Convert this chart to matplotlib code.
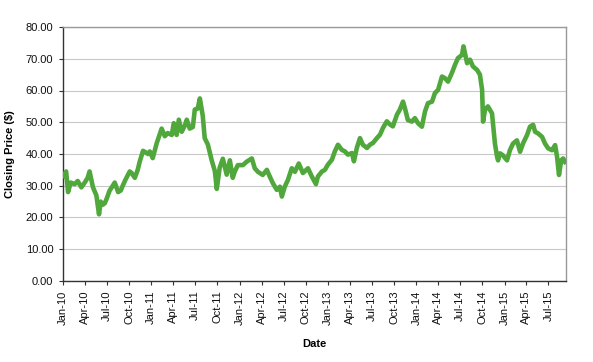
import matplotlib
matplotlib.use("Agg")
import matplotlib.pyplot as plt
import pandas as pd

dates = [
    "2010-01-04", "2010-01-08", "2010-01-14", "2010-01-22", "2010-02-02", "2010-02-18", "2010-03-03",
    "2010-03-18", "2010-04-01", "2010-04-13", "2010-04-21", "2010-05-05", "2010-05-19", "2010-05-30",
    "2010-06-06", "2010-06-14", "2010-06-23", "2010-07-01", "2010-07-13", "2010-07-26", "2010-08-03",
    "2010-08-17", "2010-08-28", "2010-09-05", "2010-09-17", "2010-10-04", "2010-10-12", "2010-10-25",
    "2010-11-06", "2010-11-14", "2010-11-28", "2010-12-09", "2010-12-19", "2010-12-26",
    "2011-01-07", "2011-01-24", "2011-02-13", "2011-02-26", "2011-03-10", "2011-03-27", "2011-04-04",
    "2011-04-16", "2011-04-25", "2011-05-07", "2011-05-20", "2011-05-28", "2011-06-09", "2011-06-22",
    "2011-06-30", "2011-07-12", "2011-07-21", "2011-08-02", "2011-08-10", "2011-08-23", "2011-09-08",
    "2011-09-21", "2011-09-29", "2011-10-11", "2011-10-24", "2011-11-09", "2011-11-22", "2011-12-04",
    "2011-12-12", "2011-12-25",
    "2012-01-15", "2012-01-31", "2012-02-21", "2012-03-04", "2012-03-17", "2012-04-06", "2012-04-23",
    "2012-05-05", "2012-05-18", "2012-06-03", "2012-06-16", "2012-06-24", "2012-07-06", "2012-07-19",
    "2012-08-04", "2012-08-17", "2012-09-02", "2012-09-19", "2012-10-10", "2012-10-26", "2012-11-12",
    "2012-11-20", "2012-12-07", "2012-12-19", "2012-12-31",
    "2013-01-17", "2013-01-29", "2013-02-11", "2013-02-27", "2013-03-12", "2013-03-24", "2013-04-10",
    "2013-04-18", "2013-04-30", "2013-05-13", "2013-05-25", "2013-06-11", "2013-06-23", "2013-07-06",
    "2013-07-22", "2013-08-04", "2013-08-16", "2013-09-01", "2013-09-14", "2013-09-26", "2013-10-13",
    "2013-10-25", "2013-11-07", "2013-11-15", "2013-11-27", "2013-12-14", "2013-12-26",
    "2014-01-08", "2014-01-24", "2014-02-06", "2014-02-18", "2014-03-07", "2014-03-19", "2014-04-01",
    "2014-04-17", "2014-04-29", "2014-05-12", "2014-05-28", "2014-06-10", "2014-06-22", "2014-07-09",
    "2014-07-15", "2014-07-30", "2014-08-11", "2014-08-23", "2014-09-09", "2014-09-21", "2014-09-30",
    "2014-10-04", "2014-10-12", "2014-10-24", "2014-11-10", "2014-11-14", "2014-11-22", "2014-12-01",
    "2014-12-05", "2014-12-13", "2014-12-25",
    "2015-01-11", "2015-01-23", "2015-02-05", "2015-02-21", "2015-03-06", "2015-03-18", "2015-04-04",
    "2015-04-16", "2015-04-29", "2015-05-07", "2015-05-19", "2015-06-05", "2015-06-17", "2015-06-30",
    "2015-07-16", "2015-07-29", "2015-08-06", "2015-08-14", "2015-08-23", "2015-08-31", "2015-09-08",
]

prices = [
    33.0, 33.7, 34.5, 28.0, 31.0, 30.5, 31.5,
    29.5, 31.0, 32.5, 34.5, 29.5, 27.0, 21.0,
    25.0, 24.0, 24.5, 26.0, 28.5, 30.0, 31.0,
    28.0, 28.5, 30.0, 32.0, 34.5, 34.0, 32.5,
    35.0, 37.5, 41.0, 40.5, 40.0, 40.8,
    38.7, 43.5, 48.0, 45.6, 46.6, 46.0, 49.7,
    46.0, 50.8, 47.0, 49.0, 50.8, 48.0, 48.5,
    54.0, 54.3, 57.5, 52.0, 45.0, 43.0, 38.0,
    34.6, 29.0, 35.7, 38.5, 33.5, 38.0, 32.5,
    34.4, 36.5,
    36.5, 37.6, 38.6, 35.5, 34.4, 33.4, 35.0,
    32.9, 30.8, 28.7, 29.7, 26.6, 29.7, 31.8,
    35.5, 34.4, 37.0, 34.0, 35.5, 32.9, 30.5,
    32.9, 34.5, 35.0, 36.6,
    38.2, 40.8, 42.9, 41.3, 40.8, 39.8, 40.3,
    37.7, 41.9, 45.0, 42.9, 41.9, 42.9, 43.5,
    45.0, 46.1, 48.2, 50.3, 49.3, 48.7, 52.4,
    54.0, 56.5, 54.4, 50.7, 50.2, 51.3,
    49.7, 48.6, 53.4, 56.0, 56.5, 59.2, 60.2,
    64.4, 63.9, 62.8, 65.5, 68.1, 70.2, 71.2,
    73.9, 68.6, 69.7, 67.6, 66.5, 65.0, 60.2,
    50.2, 53.9, 55.0, 52.8, 49.7, 43.3, 39.1,
    38.0, 40.2, 39.6,
    38.0, 41.2, 43.3, 44.3, 40.7, 43.3, 46.0,
    48.6, 49.2, 47.0, 46.5, 45.4, 43.3, 41.8,
    41.2, 42.8, 39.1, 33.4, 38.0, 38.6, 37.5,
]

tick_dates = pd.date_range("2010-01-01", "2015-07-01", freq="3MS")
y_ticks = [0, 10, 20, 30, 40, 50, 60, 70, 80]

plt.rcParams['font.family'] = ['Liberation Sans', 'DejaVu Sans']

fig = plt.figure(figsize=(5.93, 3.62), dpi=100)
ax = fig.add_axes([0.1062, 0.2238, 0.8483, 0.7016])

x = pd.to_datetime(dates)
ax.plot(x, prices, color='#50A83C', linewidth=3.3, solid_joinstyle='round', zorder=3)

ax.set_xlim(pd.Timestamp("2010-01-01"), pd.Timestamp("2015-09-12"))
ax.set_ylim(0, 80)
ax.set_yticks(y_ticks)
ax.set_yticklabels([f"{v:.2f}" for v in y_ticks], fontsize=8, color='#111111')
ax.set_xticks(tick_dates)
ax.set_xticklabels([d.strftime("%b-%y") for d in tick_dates], rotation=90, fontsize=8, color='#111111')

ax.grid(axis='y', color='#c8c8c8', linewidth=0.8, zorder=0)
ax.set_axisbelow(True)

for side in ['top', 'right']:
    ax.spines[side].set_color('#999999')
    ax.spines[side].set_linewidth(1.0)
for side in ['left', 'bottom']:
    ax.spines[side].set_color('#333333')
    ax.spines[side].set_linewidth(1.0)

ax.tick_params(axis='both', direction='out', length=3, width=0.8, color='#333333', pad=4)

ax.set_ylabel("Closing Price ($)", fontsize=8, fontweight='bold', labelpad=8)
ax.set_xlabel("Date", fontsize=8, fontweight='bold', labelpad=10)

fig.savefig("out.png", dpi=100)
